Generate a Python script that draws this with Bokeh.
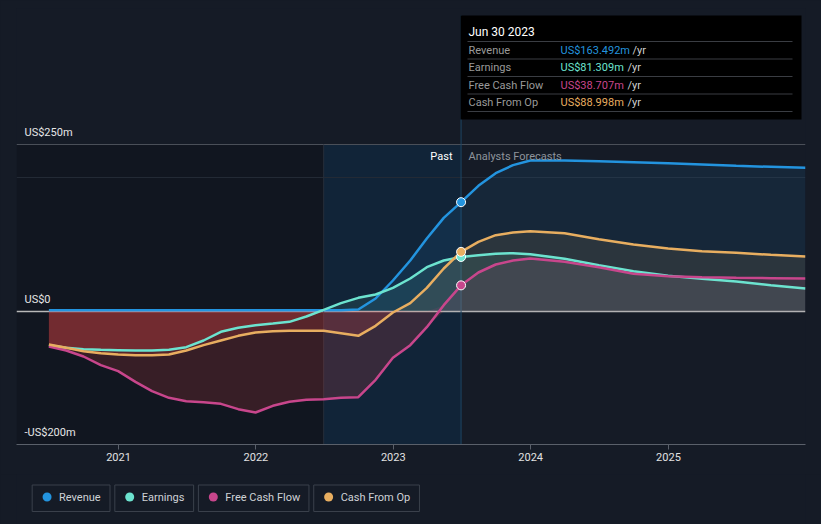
import numpy as np
import pandas as pd
from bokeh.plotting import figure
from bokeh.layouts import column
from bokeh.models import Range1d, FixedTicker, DatetimeTickFormatter
from bokeh.core.properties import value
from bokeh.embed import file_html
from bokeh.resources import INLINE

# ---------------- data ----------------
dates = ["2020-06-30", "2020-08-15", "2020-09-30", "2020-11-15", "2020-12-31",
         "2021-02-15", "2021-03-31", "2021-05-15", "2021-06-30", "2021-08-15", "2021-09-30", "2021-11-15", "2021-12-31",
         "2022-02-15", "2022-03-31", "2022-05-15", "2022-06-30", "2022-08-15", "2022-09-30", "2022-11-15", "2022-12-31",
         "2023-02-15", "2023-03-31", "2023-05-15", "2023-06-30",
         "2023-08-15", "2023-09-30", "2023-11-15", "2023-12-31",
         "2024-03-31", "2024-06-30", "2024-09-30", "2024-12-31",
         "2025-03-31", "2025-06-30", "2025-09-30", "2025-12-31"]

revenue = [1.5, 1.5, 1.5, 1.5, 1.5, 1.5, 1.5, 1.5, 1.5, 1.5, 1.5, 1.5, 1.5,
           1.5, 1.5, 1.5, 1.5, 1.5, 2.5, 19, 46, 76, 109, 140, 163.492,
           188, 207, 219, 226, 226, 225, 223.5, 222, 220, 218, 216.5, 215]
earnings = [-51, -55, -57, -58, -58.5, -59, -59, -58, -54, -44, -31, -25, -21,
            -18.5, -16, -8, 2, 12, 20, 25, 35, 49, 66, 76, 81.309,
            84, 86, 87, 85.5, 78.5, 69, 60, 53, 48.5, 44.5, 39, 34]
free_cash_flow = [-53, -59, -68, -81, -90, -106, -120, -130, -135, -136.5, -139, -147, -152,
                  -142, -136, -133, -132, -130, -129, -103, -70, -51, -24, 9, 38.707,
                  58, 70, 76, 79, 74, 66, 56, 52.5, 51, 50, 49.5, 49]
cash_from_op = [-50, -55, -60, -63, -65, -66, -66, -65, -59, -51, -44, -37, -32,
                -30, -29.5, -29.5, -29.5, -33, -37, -22, -2, 12, 35, 64, 88.998,
                104, 114, 118, 120, 117, 108, 100, 94, 90, 87.5, 84.5, 82]

series_names = ["Revenue", "Earnings", "Free Cash Flow", "Cash From Op"]
series_colors = ["#2394df", "#6ce3cf", "#c8468c", "#e8ae60"]
series_values = [revenue, earnings, free_cash_flow, cash_from_op]

x_tick_dates = ["2021-01-01", "2022-01-01", "2023-01-01", "2024-01-01", "2025-01-01"]
y_ticks = [250, 0, -200]
y_tick_labels = ["US$250m", "US$0", "-US$200m"]
past_end = "2023-06-30"
highlight_start = "2022-06-30"
tooltip_title = "Jun 30 2023"
x_view = ["2020-04-05", "2025-12-31"]
y_view = [-200, 454]

# ---------------- styling helpers ----------------
BG = "#151b26"
FONT = value("Roboto")
W, H_MAIN, H_LEG = 821, 474, 50
FRAME_L, FRAME_R, FRAME_T, FRAME_B = 16, 805, 8, 444   # screen px of frame


def ms(d):
    return pd.Timestamp(d).value / 1e6


x = pd.to_datetime(dates).asi8 / 1e6
x0, x1 = ms(x_view[0]), ms(x_view[1])


def px_x(px):
    return x0 + (px - FRAME_L) * (x1 - x0) / (FRAME_R - FRAME_L)


def py_y(py):
    return y_view[1] - (py - FRAME_T) * (y_view[1] - y_view[0]) / (FRAME_B - FRAME_T)


p = figure(width=W, height=H_MAIN, x_axis_type="datetime",
           x_range=Range1d(x0, x1), y_range=Range1d(*y_view),
           output_backend="svg", toolbar_location=None, y_axis_location=None,
           min_border_left=FRAME_L, min_border_right=W - FRAME_R, min_border_top=FRAME_T,
           min_border_bottom=H_MAIN - FRAME_B,
           background_fill_color=BG, border_fill_color=BG, outline_line_color=None)
p.grid.visible = False

# x axis
p.xaxis.ticker = FixedTicker(ticks=[ms(d) for d in x_tick_dates])
p.xaxis.formatter = DatetimeTickFormatter(years="%Y", months="%Y", days="%Y", hours="%Y")
p.xaxis.axis_line_color = "#5a606a"
p.xaxis.major_tick_line_color = "#5a606a"
p.xaxis.minor_tick_line_color = None
p.xaxis.major_tick_out = 5
p.xaxis.major_tick_in = 0
p.xaxis.major_label_standoff = 3
p.xaxis.major_label_text_color = "#e2e2e2"
p.xaxis.major_label_text_font = "Roboto"
p.xaxis.major_label_text_font_size = "11px"

hs, pe = ms(highlight_start), ms(past_end)

# background regions
p.quad(left=[x0], right=[hs], bottom=[y_view[0]], top=[y_ticks[0]],
       fill_color="black", fill_alpha=0.15, line_color=None)
p.quad(left=[hs], right=[pe], bottom=[y_view[0]], top=[y_ticks[0]],
       fill_color="#00508c", fill_alpha=0.18, line_color=None)

# horizontal lines
p.hspan(y=[y_ticks[0]], line_color="#4a4f58", line_width=1)
p.hspan(y=[200], line_color="#232a35", line_width=1)
p.hspan(y=[0], line_color="#b8b8b8", line_width=1.5)

# vertical lines
p.segment(x0=[hs], x1=[hs], y0=[y_view[0]], y1=[y_ticks[0]], line_color="#262e3a", line_width=1)
p.segment(x0=[pe], x1=[pe], y0=[y_view[0]], y1=[py_y(15)], line_color="#1e4663", line_width=1)

# fills
for vals, col in zip(series_values, series_colors):
    v = np.array(vals, dtype=float)
    p.varea(x=x, y1=np.zeros_like(v), y2=np.maximum(v, 0), fill_color=col, fill_alpha=0.1)
    if (v < 0).any():
        p.varea(x=x, y1=np.zeros_like(v), y2=np.minimum(v, 0), fill_color="#ff4849", fill_alpha=0.16)

# lines
for vals, col in zip(series_values, series_colors):
    p.line(x=x, y=vals, line_color=col, line_width=2.5)

# markers at last reported point
idx = dates.index(past_end)
p.scatter(x=[pe] * 4, y=[v[idx] for v in series_values], size=9,
          fill_color=series_colors, line_color="white", line_width=1)

# y labels
p.text(x=[px_x(24)] * 3, y=[t + 12 * 1.5 for t in y_ticks], text=y_tick_labels,
       text_color="#e6e6e6", text_font=FONT, text_font_size=value("11px"),
       text_baseline="middle", text_align="left")

# Past / Analysts Forecasts
p.text(x=[px_x(452)], y=[py_y(156)], text=["Past"], text_color="#ffffff", text_font=FONT,
       text_font_size=value("11px"), text_baseline="middle", text_align="right")
p.text(x=[px_x(468)], y=[py_y(156)], text=["Analysts Forecasts"], text_color="#8e949c", text_font=FONT,
       text_font_size=value("11px"), text_baseline="middle", text_align="left")

# tooltip box
p.quad(left=[px_x(460)], right=[px_x(801)], top=[py_y(15)], bottom=[py_y(119)],
       fill_color="#000000", line_color=None)
p.text(x=[px_x(468)], y=[py_y(31)], text=[tooltip_title], text_color="#ffffff", text_font=FONT,
       text_font_size=value("12px"), text_baseline="middle", text_align="left")
sep_y = [41, 58.5, 76, 93.5, 111]
p.segment(x0=[px_x(467)] * 5, x1=[px_x(792)] * 5, y0=[py_y(s) for s in sep_y], y1=[py_y(s) for s in sep_y],
          line_color="#3a3d43", line_width=1)
row_y = [49.5, 67, 84.5, 102]
yr_x = [632, 627, 627, 627]
for name, col, vals, ry, yx in zip(series_names, series_colors, series_values, row_y, yr_x):
    p.text(x=[px_x(468)], y=[py_y(ry)], text=[name], text_color="#9a9a9a", text_font=FONT,
           text_font_size=value("11px"), text_baseline="middle", text_align="left")
    p.text(x=[px_x(560)], y=[py_y(ry)], text=[f"US${vals[idx]:.3f}m"], text_color=col, text_font=FONT,
           text_font_size=value("11px"), text_baseline="middle", text_align="left")
    p.text(x=[px_x(yx)], y=[py_y(ry)], text=["/yr"], text_color="#d0d0d0", text_font=FONT,
           text_font_size=value("11px"), text_baseline="middle", text_align="left")

# ---------------- legend figure ----------------
leg = figure(width=W, height=H_LEG, x_range=Range1d(0, W), y_range=Range1d(H_LEG, 0),
             output_backend="svg", toolbar_location=None, x_axis_location=None, y_axis_location=None,
             min_border=0, background_fill_color=BG, border_fill_color=BG, outline_line_color=None)
leg.grid.visible = False
box_l = [16.3, 102.3, 189.3, 309.3]
box_r = [97.3, 184.3, 304.3, 419.3]
leg.quad(left=box_l, right=box_r, top=[10.5] * 4, bottom=[37] * 4,
         fill_alpha=0, line_color="#3a404b", line_width=1)
leg.scatter(x=[b + 15.5 for b in box_l], y=[22.5] * 4, size=9, fill_color=series_colors, line_color=None)
leg.text(x=[b + 28 for b in box_l], y=[22.5] * 4, text=series_names, text_color="#cfd2d6",
         text_font=FONT, text_font_size=value("11px"), text_baseline="middle", text_align="left")

layout = column(p, leg, spacing=0)
html = file_html(layout, INLINE, title="chart")
html = html.replace("</head>", "<style>html, body {background-color: #151b26;}</style></head>", 1)
open("out.html", "w").write(html)
